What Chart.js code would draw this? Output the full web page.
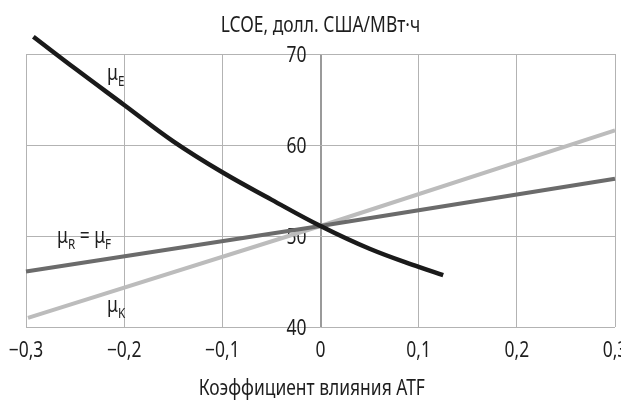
<!DOCTYPE html>
<html><head><meta charset="utf-8">
<script src="https://cdn.jsdelivr.net/npm/chart.js@4.4.1/dist/chart.umd.min.js"></script>
<style>html,body{margin:0;padding:0;background:#fff}#w{width:621px;height:404px;position:relative}</style>
</head><body><div id="w"><canvas id="c"></canvas></div>
<script>
// ---- data ----
const xTicks = [-0.3, -0.2, -0.1, 0, 0.1, 0.2, 0.3];
const yTicks = [40, 50, 60, 70];
const muE_x = [-0.2925, -0.25, -0.2, -0.15, -0.1, -0.05, 0, 0.05, 0.1, 0.125];
const muE_y = [71.9, 68.4, 64.4, 60.4, 57.0, 54.0, 51.1, 48.6, 46.6, 45.7];
const muRF_x = [-0.3, 0, 0.3];
const muRF_y = [46.1, 51.1, 56.3];
const muK_x = [-0.298, 0, 0.3];
const muK_y = [41.0, 51.1, 61.6];
const titleText = 'LCOE, долл. США/МВт·ч';
const xTitleText = 'Коэффициент влияния ATF';

const FONT = '"Noto Sans", "Open Sans", sans-serif';
const SX = 0.83;          // horizontal condensing of text
const TXT = '#1e1e1e';

// series labels (text parts: [text, isSubscript]) anchored in data coordinates (baseline start)
const seriesLabels = [
  {parts: [['μ', 0], ['E', 1]], at: [-0.2175, 67.1]},
  {parts: [['μ', 0], ['R', 1], [' = μ', 0], ['F', 1]], at: [-0.2684, 49.18]},
  {parts: [['μ', 0], ['K', 1]], at: [-0.2175, 41.65]}
];

const pts = (xs, ys) => xs.map((x, i) => ({x, y: ys[i]}));
const fmt = v => v === 0 ? '0' : (v < 0 ? '\u2212' : '') + Math.abs(v).toFixed(1).replace('.', ',');

const condensePlugin = {
  id: 'condense',
  beforeInit(chart) {
    const ctx = chart.ctx;
    const orig = ctx.fillText;
    ctx.fillText = function (t, x, y, mw) {
      this.save();
      this.translate(x, y);
      this.scale(SX, 1);
      if (mw === undefined) orig.call(this, t, 0, 0); else orig.call(this, t, 0, 0, mw / SX);
      this.restore();
    };
  }
};

const labelPlugin = {
  id: 'seriesLabels',
  afterDatasetsDraw(chart) {
    const {ctx, scales: {x, y}} = chart;
    ctx.save();
    ctx.fillStyle = TXT;
    ctx.textBaseline = 'alphabetic';
    ctx.textAlign = 'left';
    for (const l of seriesLabels) {
      let px = x.getPixelForValue(l.at[0]);
      const py = y.getPixelForValue(l.at[1]);
      for (const [t, sub] of l.parts) {
        ctx.font = (sub ? '14px ' : '21px ') + FONT;
        ctx.fillText(t, px, sub ? py + 6 : py);
        px += ctx.measureText(t).width * SX;
      }
    }
    ctx.restore();
  }
};

new Chart(document.getElementById('c'), {
  type: 'line',
  data: {
    datasets: [
      {data: pts(muE_x, muE_y), borderColor: '#1a1a1a', borderWidth: 4.5, tension: 0.4, clip: false},
      {data: pts(muRF_x, muRF_y), borderColor: '#6b6b6b', borderWidth: 4, clip: false},
      {data: pts(muK_x, muK_y), borderColor: '#bcbcbc', borderWidth: 4, clip: false}
    ]
  },
  options: {
    responsive: true, maintainAspectRatio: false, animation: false, devicePixelRatio: 1,
    layout: {padding: {left: 26, right: 6, top: 0, bottom: 0}},
    elements: {point: {radius: 0}},
    plugins: {
      legend: {display: false}, tooltip: {enabled: false},
      title: {display: true, text: titleText, color: TXT, font: {family: FONT, size: 21, weight: 'normal', lineHeight: 1.2}, padding: {top: 13, bottom: 15.8}}
    },
    scales: {
      x: {
        type: 'linear', min: -0.3, max: 0.3,
        afterBuildTicks: s => { s.ticks = xTicks.map(v => ({value: v})); },
        afterFit: s => { s.paddingLeft = 0; s.paddingRight = 0; },
        grid: {drawTicks: false, color: c => c.tick && c.tick.value === 0 ? '#9a9a9a' : '#b3b3b3', lineWidth: c => c.tick && c.tick.value === 0 ? 2 : 1},
        border: {display: false},
        ticks: {padding: 11, color: TXT, font: {family: FONT, size: 21, lineHeight: 1.2}, callback: v => fmt(v), maxRotation: 0},
        title: {display: true, text: xTitleText + '\u2003', color: TXT, font: {family: FONT, size: 21, lineHeight: 1.2}, padding: {top: 2.2, bottom: 2.4}}
      },
      y: {
        type: 'linear', min: 40, max: 70,
        position: {x: -0.0143},
        afterBuildTicks: s => { s.ticks = yTicks.map(v => ({value: v})); },
        grid: {drawTicks: false, color: '#b3b3b3', lineWidth: 1},
        border: {display: false},
        ticks: {color: TXT, labelOffset: 2, font: {family: FONT, size: 21, lineHeight: 1.2}, callback: v => String(v)}
      }
    }
  },
  plugins: [condensePlugin, labelPlugin]
});
</script>
</body></html>
